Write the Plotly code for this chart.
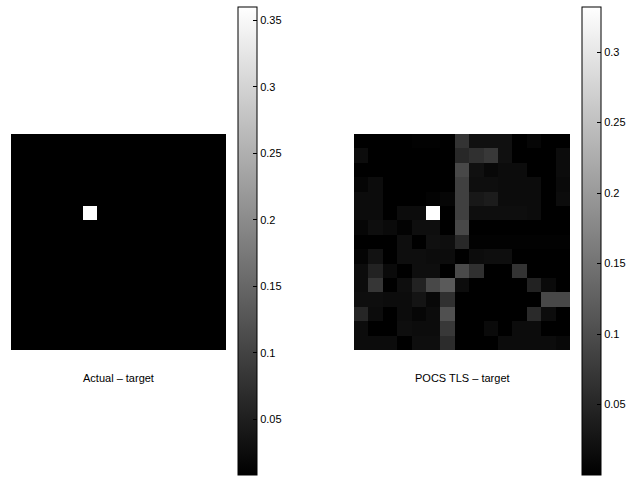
import plotly.graph_objects as go

# ---- data ----
actual_background = 0.008
actual_peak = 0.36
actual_peak_row = 5
actual_peak_col = 5
grid_n = 15

pocs_tls_error = [
    [0, 0, 0, 0, 0.003, 0.003, 0, 0.066, 0.021, 0.021, 0.021, 0, 0.008, 0, 0],
    [0.016, 0, 0, 0, 0, 0, 0, 0.052, 0.062, 0.073, 0.021, 0, 0, 0, 0.016],
    [0, 0, 0, 0, 0, 0, 0, 0.094, 0.021, 0.010, 0.016, 0.016, 0, 0, 0.016],
    [0.006, 0.016, 0, 0, 0, 0, 0, 0.083, 0.018, 0.018, 0.016, 0.016, 0.016, 0, 0.013],
    [0.016, 0.016, 0, 0, 0, 0.004, 0.008, 0.083, 0.031, 0.036, 0.016, 0.016, 0.016, 0, 0.016],
    [0.016, 0.016, 0, 0.016, 0.016, 0.332, 0, 0.083, 0.018, 0.018, 0.018, 0.018, 0.016, 0, 0],
    [0.008, 0.018, 0.013, 0.004, 0.018, 0.018, 0, 0.094, 0, 0, 0, 0, 0, 0, 0],
    [0, 0, 0, 0.018, 0, 0.021, 0.018, 0.052, 0.003, 0.003, 0.003, 0.003, 0.003, 0.003, 0.003],
    [0.005, 0.023, 0, 0.018, 0.018, 0.016, 0.016, 0, 0.016, 0.018, 0.018, 0, 0, 0, 0],
    [0.016, 0.044, 0.013, 0, 0.018, 0.018, 0, 0.096, 0.062, 0, 0, 0.066, 0, 0, 0],
    [0.016, 0.070, 0, 0.018, 0.044, 0.094, 0.117, 0.016, 0, 0, 0, 0, 0.044, 0.013, 0],
    [0.018, 0.018, 0.016, 0.016, 0.026, 0.010, 0.062, 0, 0, 0, 0, 0, 0, 0.094, 0.094],
    [0.049, 0.016, 0, 0.016, 0.008, 0.016, 0.104, 0, 0, 0, 0, 0, 0.055, 0.016, 0],
    [0.016, 0, 0, 0.018, 0.016, 0.016, 0.073, 0, 0, 0.013, 0, 0.016, 0.016, 0, 0],
    [0.016, 0.016, 0.016, 0, 0.018, 0.018, 0.057, 0, 0, 0, 0.016, 0.016, 0.016, 0.016, 0.010],
]

titles = ["Actual \u2013 target", "POCS TLS \u2013 target"]

actual_error = [[actual_background] * grid_n for _ in range(grid_n)]
actual_error[actual_peak_row][actual_peak_col] = actual_peak

gray = [[0, "black"], [1, "white"]]
W, H = 637, 478
MT, MB = 7, 3
PH = H - MT - MB
FONT = dict(family="Liberation Sans, Arial, sans-serif", size=11, color="black")

def cbar(xpx):
    return dict(
        x=xpx / W, xanchor="left", xpad=0,
        y=0, yanchor="bottom", ypad=0, len=1, lenmode="fraction",
        thickness=19, thicknessmode="pixels",
        outlinecolor="black", outlinewidth=1,
        ticks="inside", ticklen=4, tickcolor="black",
        tick0=0, dtick=0.05,
        tickfont=FONT,
    )

fig = go.Figure()
fig.add_trace(go.Heatmap(z=actual_error, colorscale=gray, xaxis="x", yaxis="y",
                         colorbar=cbar(238), hoverinfo="skip"))
fig.add_trace(go.Heatmap(z=pocs_tls_error, colorscale=gray, xaxis="x2", yaxis="y2",
                         colorbar=cbar(582), hoverinfo="skip"))

ydom = [(H - MB - 350) / PH, (H - MB - 134) / PH]
xdom1 = [11 / W, 226 / W]
xdom2 = [354 / W, 570 / W]
ax = dict(visible=False, showgrid=False, zeroline=False)

fig.update_layout(
    width=W, height=H,
    margin=dict(l=0, r=0, t=MT, b=MB, autoexpand=False),
    paper_bgcolor="white", plot_bgcolor="white",
    xaxis=dict(domain=xdom1, range=[-0.5, grid_n - 0.5], **ax),
    yaxis=dict(domain=ydom, range=[grid_n - 0.5, -0.5], **ax),
    xaxis2=dict(domain=xdom2, range=[-0.5, grid_n - 0.5], anchor="y2", **ax),
    yaxis2=dict(domain=ydom, range=[grid_n - 0.5, -0.5], anchor="x2", **ax),
    annotations=[
        dict(text=titles[0], x=sum(xdom1) / 2, y=(H - MB - 378) / PH, xref="paper", yref="paper",
             showarrow=False, xanchor="center", yanchor="middle", font=FONT),
        dict(text=titles[1], x=sum(xdom2) / 2, y=(H - MB - 378) / PH, xref="paper", yref="paper",
             showarrow=False, xanchor="center", yanchor="middle", font=FONT),
    ],
)

fig.write_html(
    "out.html",
    config={"displayModeBar": False},
    post_script="document.body.style.margin='0';document.body.style.overflow='hidden';",
)
